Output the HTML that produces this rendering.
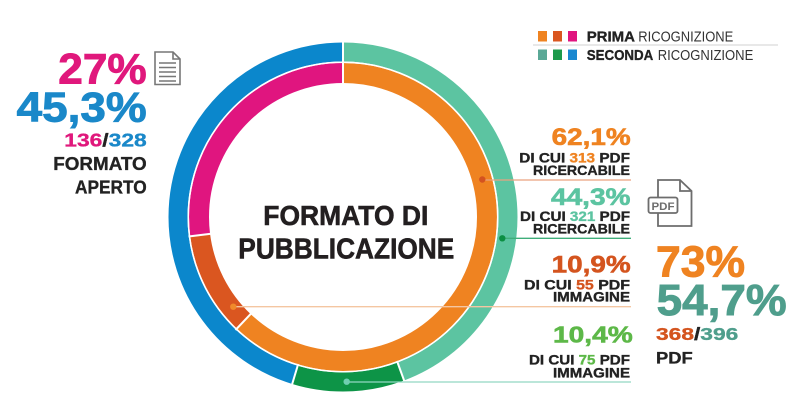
<!DOCTYPE html>
<html><head><meta charset="utf-8"><style>
html,body{margin:0;padding:0;background:#fff;}
svg{display:block;}
text{font-family:"Liberation Sans",sans-serif;font-weight:bold;}
.b{stroke-width:0.9px;}
.m{stroke-width:0.6px;}
.s{stroke-width:0.35px;}
</style></head><body>
<svg width="800" height="415" viewBox="0 0 800 415" xmlns="http://www.w3.org/2000/svg">
<rect width="800" height="415" fill="#fff"/>
<!-- donut -->
<g transform="rotate(-90 343 217)" fill="none">
  <circle cx="343" cy="217" r="165" pathLength="100" stroke="#5cc4a1" stroke-width="19" stroke-dasharray="44.3 100" stroke-dashoffset="0"/>
  <circle cx="343" cy="217" r="165" pathLength="100" stroke="#0d9447" stroke-width="19" stroke-dasharray="10.4 100" stroke-dashoffset="-44.3"/>
  <circle cx="343" cy="217" r="165" pathLength="100" stroke="#0b87cc" stroke-width="19" stroke-dasharray="45.3 100" stroke-dashoffset="-54.7"/>
  <circle cx="343" cy="217" r="144" pathLength="100" stroke="#ef8321" stroke-width="20" stroke-dasharray="62.1 100" stroke-dashoffset="0"/>
  <circle cx="343" cy="217" r="144" pathLength="100" stroke="#da5620" stroke-width="20" stroke-dasharray="10.9 100" stroke-dashoffset="-62.1"/>
  <circle cx="343" cy="217" r="144" pathLength="100" stroke="#e0157f" stroke-width="20" stroke-dasharray="27 100" stroke-dashoffset="-73"/>
</g>
<circle cx="343" cy="217" r="154.7" fill="none" stroke="#fff" stroke-width="1.5"/>
<g stroke="#fff" stroke-width="2">
  <line x1="343" y1="40" x2="343" y2="85"/>
  <line x1="252" y1="312.6" x2="235.5" y2="330"/>
  <line x1="212" y1="233.6" x2="188.5" y2="236.5"/>
  <line x1="397" y1="361" x2="405" y2="383"/>
  <line x1="298.2" y1="364" x2="291.6" y2="386"/>
</g>
<!-- leader lines -->
<line x1="482" y1="180" x2="631" y2="180" stroke="#e9a27f" stroke-width="1.3"/>
<line x1="502" y1="238.3" x2="631" y2="238.3" stroke="#3fae7a" stroke-width="1.3"/>
<line x1="233" y1="306.7" x2="631" y2="306.7" stroke="#f4c6a2" stroke-width="1.3"/>
<line x1="347" y1="382" x2="631" y2="382" stroke="#92d8c2" stroke-width="1.3"/>
<circle cx="482.3" cy="179.5" r="3.2" fill="#d4521f"/>
<circle cx="502.3" cy="238.3" r="3.2" fill="#0c8f43"/>
<circle cx="233.3" cy="306.7" r="3.2" fill="#f08a2a"/>
<circle cx="346.7" cy="381.7" r="3.2" fill="#6fcfb1"/>
<!-- center title -->
<text class="m" x="263.3" y="225" font-size="27.5" fill="#231f20" stroke="#231f20" textLength="165" lengthAdjust="spacingAndGlyphs">FORMATO DI</text>
<text class="m" x="238.3" y="258.3" font-size="29" fill="#231f20" stroke="#231f20" textLength="216" lengthAdjust="spacingAndGlyphs">PUBBLICAZIONE</text>
<!-- left -->
<text class="b" x="58.3" y="83.3" font-size="43" fill="#e0187c" stroke="#e0187c" textLength="88.4" lengthAdjust="spacingAndGlyphs">27%</text>
<text class="b" x="16.7" y="121.7" font-size="41.5" fill="#1a88c9" stroke="#1a88c9" textLength="130" lengthAdjust="spacingAndGlyphs">45,3%</text>
<text class="s" x="64.3" y="146.7" font-size="18.4" textLength="82.4" lengthAdjust="spacingAndGlyphs"><tspan fill="#e0187c" stroke="#e0187c">136</tspan><tspan fill="#222" stroke="#222">/</tspan><tspan fill="#1a88c9" stroke="#1a88c9">328</tspan></text>
<text class="s" x="53.3" y="170" font-size="18.3" fill="#222" stroke="#222" textLength="93.4" lengthAdjust="spacingAndGlyphs">FORMATO</text>
<text class="s" x="75" y="193.3" font-size="18.3" fill="#222" stroke="#222" textLength="71.7" lengthAdjust="spacingAndGlyphs">APERTO</text>
<!-- doc icon -->
<g fill="none" stroke="#777" stroke-width="1.6">
  <path d="M155 52 H173 L180 59 V84.5 H155 Z"/>
  <path d="M173 52 V59 H180"/>
  <line x1="159" y1="63" x2="176" y2="63"/>
  <line x1="159" y1="67.5" x2="176" y2="67.5"/>
  <line x1="159" y1="72" x2="176" y2="72"/>
  <line x1="159" y1="76.5" x2="176" y2="76.5"/>
  <line x1="159" y1="81" x2="176" y2="81"/>
</g>
<!-- legend -->
<rect x="538" y="31" width="9" height="10.5" fill="#ef8321"/>
<rect x="553" y="31" width="9" height="10.5" fill="#da5620"/>
<rect x="568" y="31" width="9" height="10.5" fill="#e0157f"/>
<rect x="538" y="49.5" width="9" height="10.5" fill="#5aa896"/>
<rect x="553" y="49.5" width="9" height="10.5" fill="#1d9a4b"/>
<rect x="568" y="49.5" width="9" height="10.5" fill="#1a88d0"/>
<line x1="533" y1="45" x2="778" y2="45" stroke="#d0d0d0" stroke-width="1"/>
<text class="s" x="586.7" y="41.7" font-size="15" fill="#222" stroke="#222" textLength="48.3" lengthAdjust="spacingAndGlyphs">PRIMA</text>
<text x="638.3" y="41.7" font-size="15" fill="#333" style="font-weight:normal" textLength="95" lengthAdjust="spacingAndGlyphs">RICOGNIZIONE</text>
<text class="s" x="586.7" y="60" font-size="15" fill="#222" stroke="#222" textLength="66.6" lengthAdjust="spacingAndGlyphs">SECONDA</text>
<text x="657.7" y="60" font-size="15" fill="#333" style="font-weight:normal" textLength="95.6" lengthAdjust="spacingAndGlyphs">RICOGNIZIONE</text>
<!-- right column -->
<text class="m" x="551.7" y="145" font-size="24" fill="#ef8321" stroke="#ef8321" textLength="79" lengthAdjust="spacingAndGlyphs">62,1%</text>
<text class="s" x="519.3" y="162.7" font-size="13.7" fill="#222" stroke="#222" textLength="110.7" lengthAdjust="spacingAndGlyphs">DI CUI <tspan fill="#ef8321" stroke="#ef8321">313</tspan> PDF</text>
<text class="s" x="533" y="175" font-size="13.7" fill="#222" stroke="#222" textLength="97" lengthAdjust="spacingAndGlyphs">RICERCABILE</text>
<text class="m" x="551" y="205" font-size="24" fill="#5cc4a1" stroke="#5cc4a1" textLength="79.5" lengthAdjust="spacingAndGlyphs">44,3%</text>
<text class="s" x="520" y="221" font-size="13.7" fill="#222" stroke="#222" textLength="110" lengthAdjust="spacingAndGlyphs">DI CUI <tspan fill="#5cc4a1" stroke="#5cc4a1">321</tspan> PDF</text>
<text class="s" x="533" y="233.3" font-size="13.7" fill="#222" stroke="#222" textLength="97" lengthAdjust="spacingAndGlyphs">RICERCABILE</text>
<text class="m" x="551.7" y="272.3" font-size="24" fill="#d4541e" stroke="#d4541e" textLength="79" lengthAdjust="spacingAndGlyphs">10,9%</text>
<text class="s" x="524" y="289.3" font-size="13.7" fill="#222" stroke="#222" textLength="106" lengthAdjust="spacingAndGlyphs">DI CUI <tspan fill="#d4541e" stroke="#d4541e">55</tspan>  PDF</text>
<text class="s" x="553" y="301.7" font-size="13.7" fill="#222" stroke="#222" textLength="77" lengthAdjust="spacingAndGlyphs">IMMAGINE</text>
<text class="m" x="553" y="342.5" font-size="23" fill="#5db848" stroke="#5db848" textLength="79.7" lengthAdjust="spacingAndGlyphs">10,4%</text>
<text class="s" x="529" y="364.3" font-size="13.7" fill="#222" stroke="#222" textLength="101" lengthAdjust="spacingAndGlyphs">DI CUI <tspan fill="#5db848" stroke="#5db848">75</tspan> PDF</text>
<text class="s" x="553" y="377.7" font-size="13.7" fill="#222" stroke="#222" textLength="77" lengthAdjust="spacingAndGlyphs">IMMAGINE</text>
<!-- pdf icon -->
<g fill="none" stroke="#6d6d6d" stroke-width="1.8">
  <path d="M658 197 V180 H680 L691.5 191 V226 H658 V213"/>
  <path d="M680 180 V191 H691.5"/>
  <rect x="648.5" y="197.5" width="29" height="15.5" rx="2" fill="#fff"/>
</g>
<text x="651.5" y="210" font-size="11" fill="#6d6d6d" textLength="23" lengthAdjust="spacingAndGlyphs">PDF</text>
<!-- big right stats -->
<text class="b" x="656" y="276.7" font-size="43.5" fill="#ef8321" stroke="#ef8321" textLength="89" lengthAdjust="spacingAndGlyphs">73%</text>
<text class="b" x="656.7" y="315" font-size="43.5" fill="#4f9e8c" stroke="#4f9e8c" textLength="130" lengthAdjust="spacingAndGlyphs">54,7%</text>
<text class="s" x="656" y="340" font-size="17.5" textLength="82.3" lengthAdjust="spacingAndGlyphs"><tspan fill="#d4541e" stroke="#d4541e">368</tspan><tspan fill="#222" stroke="#222">/</tspan><tspan fill="#4f9e8c" stroke="#4f9e8c">396</tspan></text>
<text class="s" x="656" y="363.3" font-size="17" fill="#222" stroke="#222" textLength="36.7" lengthAdjust="spacingAndGlyphs">PDF</text>
</svg>
</body></html>
